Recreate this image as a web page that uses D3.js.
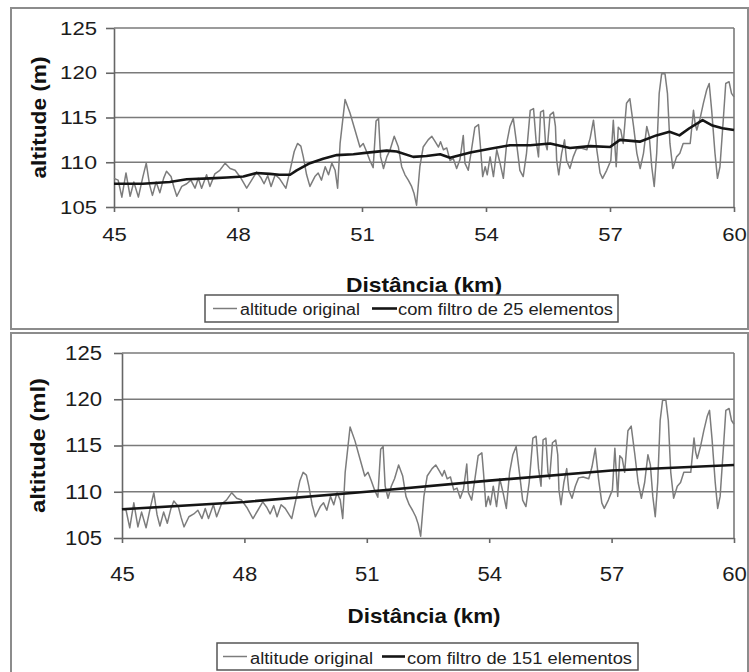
<!DOCTYPE html>
<html>
<head>
<meta charset="utf-8">
<script src="https://cdn.jsdelivr.net/npm/d3@7"></script>
<style>
  body { margin: 0; background: #fff; }
  svg { display: block; }
</style>
</head>
<body>
<svg id="chart" width="749" height="672"></svg>
<script>
// distance (km) and original altitude (m)
const distKm = [45.00, 45.10, 45.19, 45.29, 45.39, 45.48, 45.59, 45.70, 45.78, 45.86, 45.93, 46.02, 46.11, 46.20, 46.27, 46.38, 46.45, 46.52, 46.64, 46.76, 46.86, 46.96, 47.04, 47.12, 47.24, 47.32, 47.44, 47.56, 47.69, 47.81, 47.93, 48.06, 48.21, 48.33, 48.45, 48.55, 48.63, 48.72, 48.80, 48.90, 49.00, 49.10, 49.16, 49.26, 49.36, 49.44, 49.52, 49.58, 49.66, 49.74, 49.86, 49.94, 50.02, 50.11, 50.19, 50.27, 50.35, 50.41, 50.47, 50.59, 50.71, 50.83, 50.95, 51.03, 51.11, 51.19, 51.27, 51.34, 51.40, 51.45, 51.52, 51.60, 51.68, 51.78, 51.88, 51.96, 52.04, 52.12, 52.20, 52.26, 52.32, 52.40, 52.48, 52.60, 52.69, 52.77, 52.85, 52.90, 52.97, 53.05, 53.13, 53.21, 53.29, 53.37, 53.45, 53.49, 53.57, 53.65, 53.73, 53.82, 53.86, 53.92, 53.98, 54.03, 54.10, 54.18, 54.26, 54.34, 54.42, 54.50, 54.58, 54.66, 54.74, 54.82, 54.90, 54.98, 55.07, 55.15, 55.21, 55.27, 55.32, 55.39, 55.44, 55.48, 55.55, 55.63, 55.68, 55.71, 55.76, 55.83, 55.90, 55.95, 56.03, 56.11, 56.19, 56.30, 56.44, 56.52, 56.60, 56.68, 56.76, 56.82, 56.92, 57.02, 57.08, 57.15, 57.20, 57.26, 57.32, 57.40, 57.48, 57.57, 57.65, 57.73, 57.81, 57.89, 57.95, 58.01, 58.07, 58.13, 58.19, 58.25, 58.33, 58.39, 58.45, 58.52, 58.61, 58.69, 58.77, 58.86, 58.94, 59.02, 59.06, 59.10, 59.18, 59.26, 59.34, 59.40, 59.46, 59.54, 59.60, 59.66, 59.74, 59.80, 59.88, 59.94, 60.00];
const altOriginal = [108.2, 108.0, 106.1, 108.8, 106.2, 107.8, 106.1, 108.4, 109.9, 107.5, 106.3, 107.8, 106.6, 108.2, 109.0, 108.4, 107.2, 106.2, 107.3, 107.6, 108.0, 107.1, 108.2, 107.1, 108.6, 107.3, 108.7, 109.1, 109.9, 109.3, 109.1, 108.3, 107.1, 108.0, 108.9, 108.3, 107.6, 108.5, 107.3, 108.6, 108.2, 107.5, 107.1, 109.1, 111.2, 112.1, 111.8, 110.6, 108.6, 107.3, 108.4, 108.8, 108.0, 109.5, 108.6, 109.9, 109.1, 107.1, 112.1, 117.0, 115.5, 113.6, 111.7, 112.1, 111.2, 110.2, 109.4, 114.6, 114.9, 110.6, 109.3, 110.6, 111.4, 112.9, 111.7, 109.5, 108.6, 108.0, 107.3, 106.5, 105.2, 109.5, 111.7, 112.5, 112.9, 112.3, 111.7, 112.3, 111.4, 111.6, 110.2, 110.4, 109.3, 110.3, 113.0, 109.9, 109.1, 111.4, 113.9, 114.2, 112.1, 108.4, 109.5, 108.6, 110.6, 108.4, 111.4, 109.9, 108.2, 112.1, 114.0, 114.9, 112.1, 109.1, 108.4, 111.0, 115.8, 116.0, 112.5, 110.6, 115.6, 115.8, 112.1, 111.4, 115.3, 115.6, 114.0, 110.2, 108.6, 111.0, 112.5, 110.2, 109.3, 110.6, 111.5, 111.6, 111.4, 112.7, 114.7, 111.4, 108.8, 108.2, 109.1, 110.2, 114.7, 109.5, 113.9, 113.6, 112.1, 116.6, 117.1, 114.0, 111.0, 109.3, 111.0, 114.0, 112.9, 109.5, 107.3, 111.0, 117.7, 119.9, 119.9, 117.7, 112.1, 109.3, 110.6, 111.0, 112.1, 112.1, 112.1, 115.8, 114.3, 113.6, 114.9, 116.6, 118.1, 118.8, 115.8, 111.0, 108.2, 109.5, 114.7, 118.8, 119.0, 117.7, 117.3];

// filtered with 25 elements
const filt25Km = [45.0, 45.7, 46.35, 46.76, 47.32, 47.73, 48.13, 48.45, 48.77, 49.0, 49.26, 49.42, 49.74, 50.06, 50.39, 50.79, 51.19, 51.6, 51.84, 52.24, 52.56, 52.89, 53.13, 53.62, 54.1, 54.58, 55.07, 55.55, 56.03, 56.52, 57.0, 57.24, 57.72, 58.12, 58.44, 58.68, 58.92, 59.24, 59.48, 59.72, 60.0];
const filt25Alt = [107.6, 107.6, 107.8, 108.1, 108.2, 108.3, 108.4, 108.8, 108.7, 108.6, 108.6, 109.1, 109.9, 110.4, 110.8, 110.9, 111.1, 111.3, 111.2, 110.6, 110.7, 110.9, 110.5, 111.1, 111.5, 111.9, 111.9, 112.1, 111.6, 111.8, 111.7, 112.5, 112.3, 113.0, 113.4, 113.0, 113.8, 114.7, 114.1, 113.8, 113.6];

// filtered with 151 elements
const filt151Km = [45, 48, 51, 54, 57, 60];
const filt151Alt = [108.1, 108.9, 110.0, 111.2, 112.3, 112.9];

const xTicks = [45, 48, 51, 54, 57, 60];
const yTicks = [105, 110, 115, 120, 125];
const xTitle = "Distância (km)";
const legendOriginal = "altitude original";

const svg = d3.select("#chart");
const FONT = "'Liberation Sans', Arial, sans-serif";

// panel frames
svg.append("rect").attr("x", 11).attr("y", 8).attr("width", 737).attr("height", 321)
    .attr("fill", "none").attr("stroke", "#8c8c8c").attr("stroke-width", 2);
svg.append("rect").attr("x", 11).attr("y", 333).attr("width", 737).attr("height", 345)
    .attr("fill", "none").attr("stroke", "#8c8c8c").attr("stroke-width", 2);

function drawPanel(p) {
    const x = d3.scaleLinear().domain([45, 60]).range([p.left, p.right]);
    const y = d3.scaleLinear().domain([105, 125]).range([p.bottom, p.top]);
    const g = svg.append("g");

    // horizontal gridlines (top one is the frame)
    g.append("g").selectAll("line").data(yTicks.slice(1)).join("line")
        .attr("x1", p.left).attr("x2", p.right)
        .attr("y1", d => y(d)).attr("y2", d => y(d))
        .attr("stroke", "#7a7a7a").attr("stroke-width", 1.6);
    g.append("line").attr("x1", p.right).attr("x2", p.right)
        .attr("y1", p.top).attr("y2", p.bottom)
        .attr("stroke", "#7a7a7a").attr("stroke-width", 1.6);

    const yAxis = d3.axisLeft(y).tickValues(yTicks).tickSize(8).tickSizeOuter(0).tickPadding(p.yPad);
    const gy = g.append("g").attr("transform", `translate(${p.left},0)`).call(yAxis);
    const xAxis = d3.axisBottom(x).tickValues(xTicks).tickSize(5).tickSizeOuter(0).tickPadding(p.xPad);
    const gx = g.append("g").attr("transform", `translate(0,${p.bottom})`).call(xAxis);

    [gy, gx].forEach(a => {
        a.select(".domain").attr("stroke", "#666").attr("stroke-width", 1.6);
        a.selectAll(".tick line").attr("stroke", "#666").attr("stroke-width", 1.6);
        a.selectAll(".tick text")
            .attr("font-family", FONT).attr("font-size", p.tickFont).attr("fill", "#1c1c1c")
            .attr("lengthAdjust", "spacingAndGlyphs")
            .attr("textLength", d => String(d).length * p.digitW);
    });

    const line = d3.line().x(d => x(d[0])).y(d => y(d[1]));
    g.append("path").datum(d3.zip(distKm, altOriginal))
        .attr("d", line).attr("fill", "none")
        .attr("stroke", "#7c7c7c").attr("stroke-width", 1.5).attr("stroke-linejoin", "round");
    g.append("path").datum(d3.zip(p.filtKm, p.filtAlt))
        .attr("d", line).attr("fill", "none")
        .attr("stroke", "#151515").attr("stroke-width", 2.6).attr("stroke-linejoin", "round");

    // axis titles
    g.append("text").text(xTitle)
        .attr("x", p.xTitleX).attr("y", p.xTitleY)
        .attr("text-anchor", "middle").attr("font-family", FONT).attr("font-weight", "bold")
        .attr("font-size", p.titleFont).attr("fill", "#111")
        .attr("lengthAdjust", "spacingAndGlyphs").attr("textLength", p.xTitleW);
    g.append("text").text(p.yTitle)
        .attr("transform", `translate(${p.yTitleX},${(p.top + p.bottom) / 2}) rotate(-90)`)
        .attr("text-anchor", "middle").attr("dominant-baseline", "central")
        .attr("font-family", FONT).attr("font-weight", "bold")
        .attr("font-size", p.titleFont).attr("fill", "#111")
        .attr("lengthAdjust", "spacingAndGlyphs").attr("textLength", p.yTitleW);

    // legend
    const L = p.legend;
    g.append("rect").attr("x", L.x).attr("y", L.y).attr("width", L.w).attr("height", L.h)
        .attr("fill", "#fff").attr("stroke", "#555").attr("stroke-width", 1.5);
    const items = [
        {label: legendOriginal, color: "#7c7c7c", width: 1.5, s: L.s1, t: L.t1, tw: L.tw1},
        {label: p.filtLabel, color: "#151515", width: 2.6, s: L.s2, t: L.t2, tw: L.tw2}
    ];
    const ly = L.y + L.h / 2;
    items.forEach(it => {
        g.append("line").attr("x1", it.s[0]).attr("x2", it.s[1]).attr("y1", ly).attr("y2", ly)
            .attr("stroke", it.color).attr("stroke-width", it.width);
        g.append("text").text(it.label).attr("x", it.t).attr("y", L.base)
            .attr("font-family", FONT).attr("font-size", L.font).attr("fill", "#222")
            .attr("lengthAdjust", "spacingAndGlyphs").attr("textLength", it.tw);
    });
}

drawPanel({
    left: 114, right: 734, top: 28, bottom: 207,
    yPad: 9, xPad: 16, tickFont: 19, digitW: 12.3, titleFont: 21,
    xTitleX: 424, xTitleY: 292, xTitleW: 156,
    yTitle: "altitude (m)", yTitleX: 38, yTitleW: 122,
    filtKm: filt25Km, filtAlt: filt25Alt, filtLabel: "com filtro de 25 elementos",
    legend: {x: 205, y: 295, w: 413, h: 27, base: 315, font: 16,
        s1: [213, 237], t1: 240, tw1: 120, s2: [372, 397], t2: 398, tw2: 215}
});

drawPanel({
    left: 122, right: 734, top: 353, bottom: 538,
    yPad: 12, xPad: 24, tickFont: 20, digitW: 12.3, titleFont: 21,
    xTitleX: 424, xTitleY: 623, xTitleW: 153,
    yTitle: "altitude (ml)", yTitleX: 37, yTitleW: 135,
    filtKm: filt151Km, filtAlt: filt151Alt, filtLabel: "com filtro de 151 elementos",
    legend: {x: 217, y: 643, w: 421, h: 27, base: 664, font: 16,
        s1: [223, 247], t1: 250, tw1: 123, s2: [382, 405], t2: 407, tw2: 225}
});
</script>
</body>
</html>
